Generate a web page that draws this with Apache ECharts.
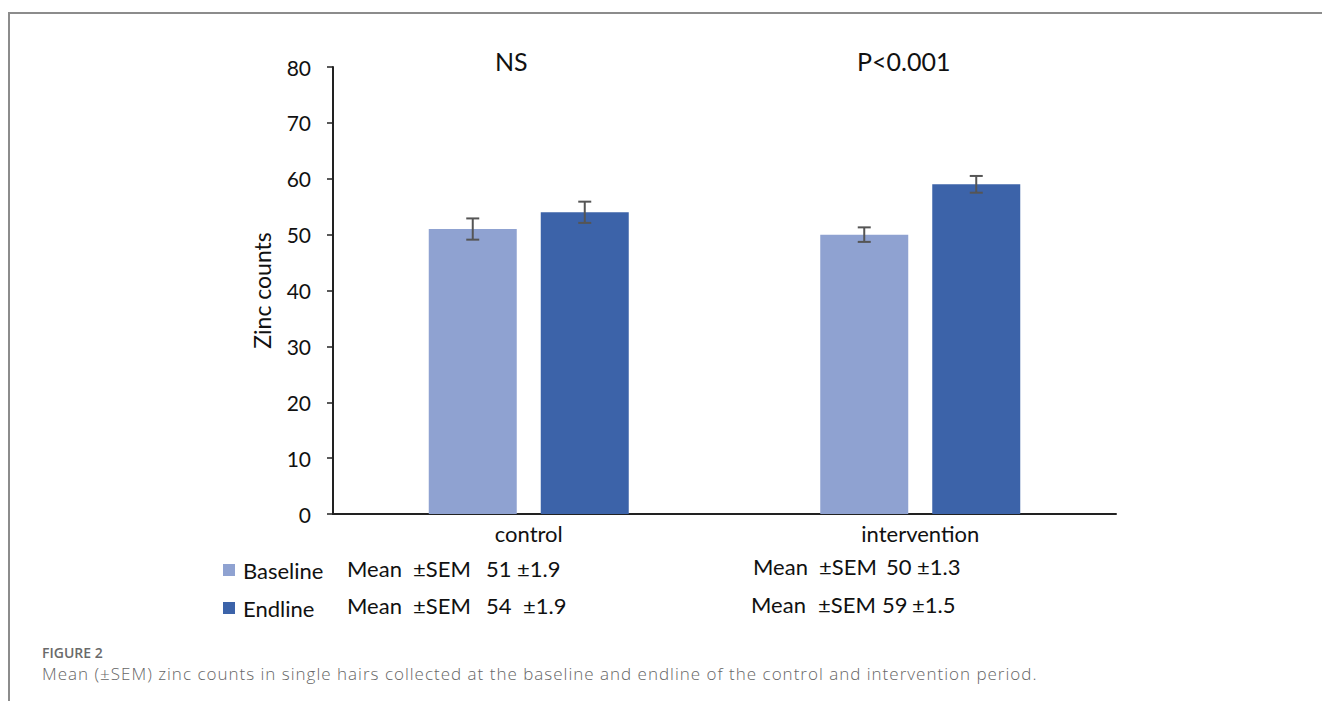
<!DOCTYPE html>
<html>
<head>
<meta charset="utf-8">
<script src="https://cdn.jsdelivr.net/npm/echarts@6/dist/echarts.min.js"></script>
<style>
  html, body { margin: 0; padding: 0; background: #fff; }
  #wrap { position: relative; width: 1322px; height: 701px; overflow: hidden; }
  #chart { position: absolute; left: 0; top: 0; width: 1322px; height: 701px; }
  .cap-label { position: absolute; left: 42px; top: 643px; font: 600 14px "Open Sans", sans-serif; color: #6a6a6a; white-space: nowrap; }
  .cap-text { position: absolute; left: 42px; top: 662px; font: 300 17px "Open Sans", sans-serif; letter-spacing: 1px; color: #666; white-space: nowrap; }
</style>
</head>
<body>
<div id="wrap">
  <div id="chart"></div>
  <div class="cap-label">FIGURE 2</div>
  <div class="cap-text">Mean (&plusmn;SEM) zinc counts in single hairs collected at the baseline and endline of the control and intervention period.</div>
</div>
<script>
// Zinc counts per group and period
const categories = ['control', 'intervention'];
const seriesNames = ['Baseline', 'Endline'];
const baselineMean = [51, 50];
const endlineMean = [54, 59];
const baselineSem = [1.9, 1.3];
const endlineSem = [1.9, 1.5];
const significance = ['NS', 'P<0.001'];
const yTicks = [0, 10, 20, 30, 40, 50, 60, 70, 80];

const FONT = 'Lato';
const colors = ['#8FA2D1', '#3C63A9'];
const BAR_W = 88;
const BAR_GAP = 24;

const chart = echarts.init(document.getElementById('chart'), null, { renderer: 'svg' });

function errorSeries(means, sems, offset) {
  return {
    type: 'custom',
    silent: true,
    z: 5,
    data: means.map((m, i) => [i, m, sems[i]]),
    renderItem: function (params, api) {
      const cx = api.coord([api.value(0), 0])[0] + offset;
      const hi = api.coord([api.value(0), api.value(1) + api.value(2)])[1];
      const lo = api.coord([api.value(0), api.value(1) - api.value(2)])[1];
      const cap = 6.5;
      const style = { stroke: '#555', lineWidth: 2 };
      return {
        type: 'group',
        children: [
          { type: 'line', shape: { x1: cx, y1: hi, x2: cx, y2: lo }, style },
          { type: 'line', shape: { x1: cx - cap, y1: hi, x2: cx + cap, y2: hi }, style },
          { type: 'line', shape: { x1: cx - cap, y1: lo, x2: cx + cap, y2: lo }, style }
        ]
      };
    }
  };
}

// One row of summary statistics: "Mean  ±SEM  mean ±sem", laid out in columns
function statRow(x, y, mean, sem, cols) {
  const font = '22px ' + FONT;
  const parts = ['Mean', '\u00B1SEM', String(mean), '\u00B1' + sem.toFixed(1)];
  return parts.map((t, k) => ({
    type: 'text', left: x + cols[k], top: y,
    style: { text: t, font: font, fill: '#111' }
  }));
}

const off = (BAR_W + BAR_GAP) / 2;

chart.setOption({
  backgroundColor: 'transparent',
  animation: false,
  textStyle: { fontFamily: FONT },
  grid: { left: 333, right: 206, top: 67, bottom: 187 },
  legend: {
    data: seriesNames,
    orient: 'vertical',
    left: 218,
    top: 554,
    itemWidth: 12,
    itemHeight: 12,
    itemGap: 16,
    icon: 'rect',
    textStyle: { fontFamily: FONT, fontSize: 22, color: '#111', padding: [0, 0, 0, 3] }
  },
  xAxis: {
    type: 'category',
    data: categories,
    axisLine: { lineStyle: { color: '#222', width: 2 } },
    axisTick: { show: false },
    axisLabel: { fontFamily: FONT, fontSize: 22, color: '#111', margin: 8 }
  },
  yAxis: {
    type: 'value',
    min: 0,
    max: 80,
    interval: 10,
    name: 'Zinc counts',
    nameLocation: 'middle',
    nameGap: 60,
    nameTextStyle: { fontFamily: FONT, fontSize: 23, color: '#111' },
    axisLine: { show: true, lineStyle: { color: '#222', width: 2 } },
    axisTick: { show: true, length: 6, lineStyle: { color: '#222', width: 1.5 } },
    axisLabel: {
      fontFamily: FONT, fontSize: 21, color: '#111', margin: 22,
      formatter: v => (yTicks.indexOf(v) >= 0 ? String(v) : '')
    },
    splitLine: { show: false }
  },
  series: [
    {
      name: seriesNames[0], type: 'bar', data: baselineMean,
      barWidth: BAR_W, barGap: (BAR_GAP / BAR_W * 100) + '%',
      itemStyle: { color: colors[0] }
    },
    {
      name: seriesNames[1], type: 'bar', data: endlineMean,
      barWidth: BAR_W,
      itemStyle: { color: colors[1] }
    },
    errorSeries(baselineMean, baselineSem, -off),
    errorSeries(endlineMean, endlineSem, off)
  ],
  graphic: [
    {
      type: 'rect', silent: true, z: -1,
      shape: { x: 9, y: 13, width: 1400, height: 800 },
      style: { fill: 'none', stroke: '#8c8c8c', lineWidth: 2 }
    },
    { type: 'text', left: 495, top: 48, style: { text: significance[0], font: '25px ' + FONT, fill: '#111' } },
    { type: 'text', left: 857, top: 48, style: { text: significance[1], font: '25px ' + FONT, fill: '#111' } }
  ]
    .concat(statRow(347, 557, baselineMean[0], baselineSem[0], [0, 66, 139, 170]))
    .concat(statRow(347, 594, endlineMean[0], endlineSem[0], [0, 66, 139, 176]))
    .concat(statRow(753, 555, baselineMean[1], baselineSem[1], [0, 66, 133, 164]))
    .concat(statRow(751, 593, endlineMean[1], endlineSem[1], [0, 67, 131, 161]))
});
</script>
</body>
</html>
